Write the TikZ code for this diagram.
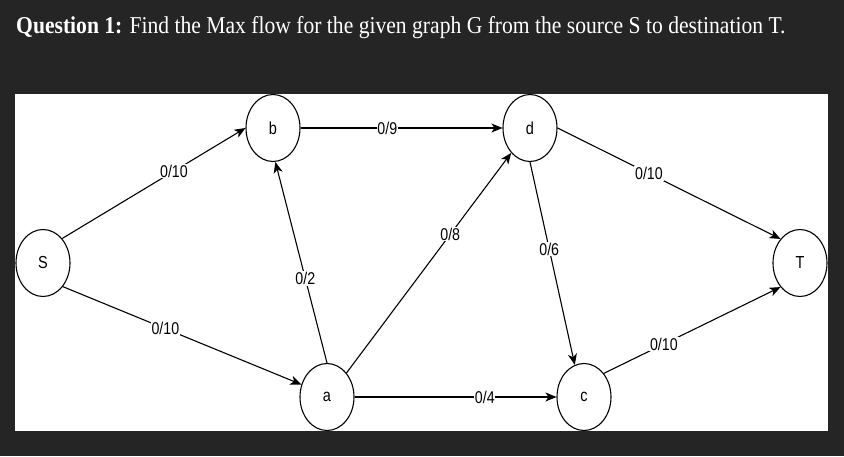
\documentclass[tikz,border=0pt]{standalone}
\usepackage{fontspec}
\usepackage{graphicx}
\setmainfont{Liberation Serif}
\newfontfamily\arialf{Liberation Sans}
\usetikzlibrary{shapes.geometric,arrows.meta}
\definecolor{bgdark}{RGB}{37,37,37}
\newcommand{\vstretch}[1]{\scalebox{1}[1.2]{#1}}
\tikzset{
  vertex/.style={draw=black, line width=1.1pt, ellipse, minimum width=54pt, minimum height=67pt, inner sep=0pt, font=\arialf\fontsize{14.5}{16}\selectfont},
  flow/.style={draw=black, line width=1.1pt, -{Stealth[length=11pt,width=9pt,inset=3pt]}},
  flowlabel/.style={fill=white, inner sep=0.8pt, font=\arialf\fontsize{14.2}{16}\selectfont},
}
\begin{document}
\begin{tikzpicture}[x=1pt,y=-1pt]
\fill[bgdark] (0,0) rectangle (844,456);
\useasboundingbox (0,0) rectangle (844,456);
\fill[white] (15,94) rectangle (828,431);
\node[anchor=base west, text=white, inner sep=0pt, font=\fontsize{21.6}{24}\selectfont] (title) at (16,33)
  {\scalebox{1}[1.12]{\textbf{Question 1:} Find the Max flow for the given graph G from the source S to destination T.}};
\node[vertex] (S) at (43,263) {\vstretch{S}};
\node[vertex] (b) at (273,128) {\vstretch{b}};
\node[vertex] (d) at (530,128) {\vstretch{d}};
\node[vertex] (T) at (800,263) {\vstretch{T}};
\node[vertex] (a) at (327,397) {\vstretch{a}};
\node[vertex] (c) at (584,397) {\vstretch{c}};
\draw[flow] (S.52) -- node[flowlabel, pos=0.61] (l1) {\vstretch{0/10}} (b.180);
\draw[flow] (b.0) -- node[flowlabel, pos=0.43] (l2) {\vstretch{0/9}} (d.180);
\draw[flow] (d.0) -- node[flowlabel, pos=0.41] (l3) {\vstretch{0/10}} (T.129);
\draw[flow] (S.-50) -- node[flowlabel, pos=0.43] (l4) {\vstretch{0/10}} (a.154);
\draw[flow] (a.90) -- node[flowlabel, pos=0.42] (l5) {\vstretch{0/2}} (b.-86);
\draw[flow] (a.51) -- node[flowlabel, pos=0.63] (l6) {\vstretch{0/8}} (d.-127);
\draw[flow] (d.-90) -- node[flowlabel, pos=0.43] (l7) {\vstretch{0/6}} (c.106);
\draw[flow] (a.0) -- node[flowlabel, pos=0.645] (l8) {\vstretch{0/4}} (c.180);
\draw[flow] (c.50) -- node[flowlabel, pos=0.34] (l9) {\vstretch{0/10}} (T.-129);
\end{tikzpicture}
\end{document}
